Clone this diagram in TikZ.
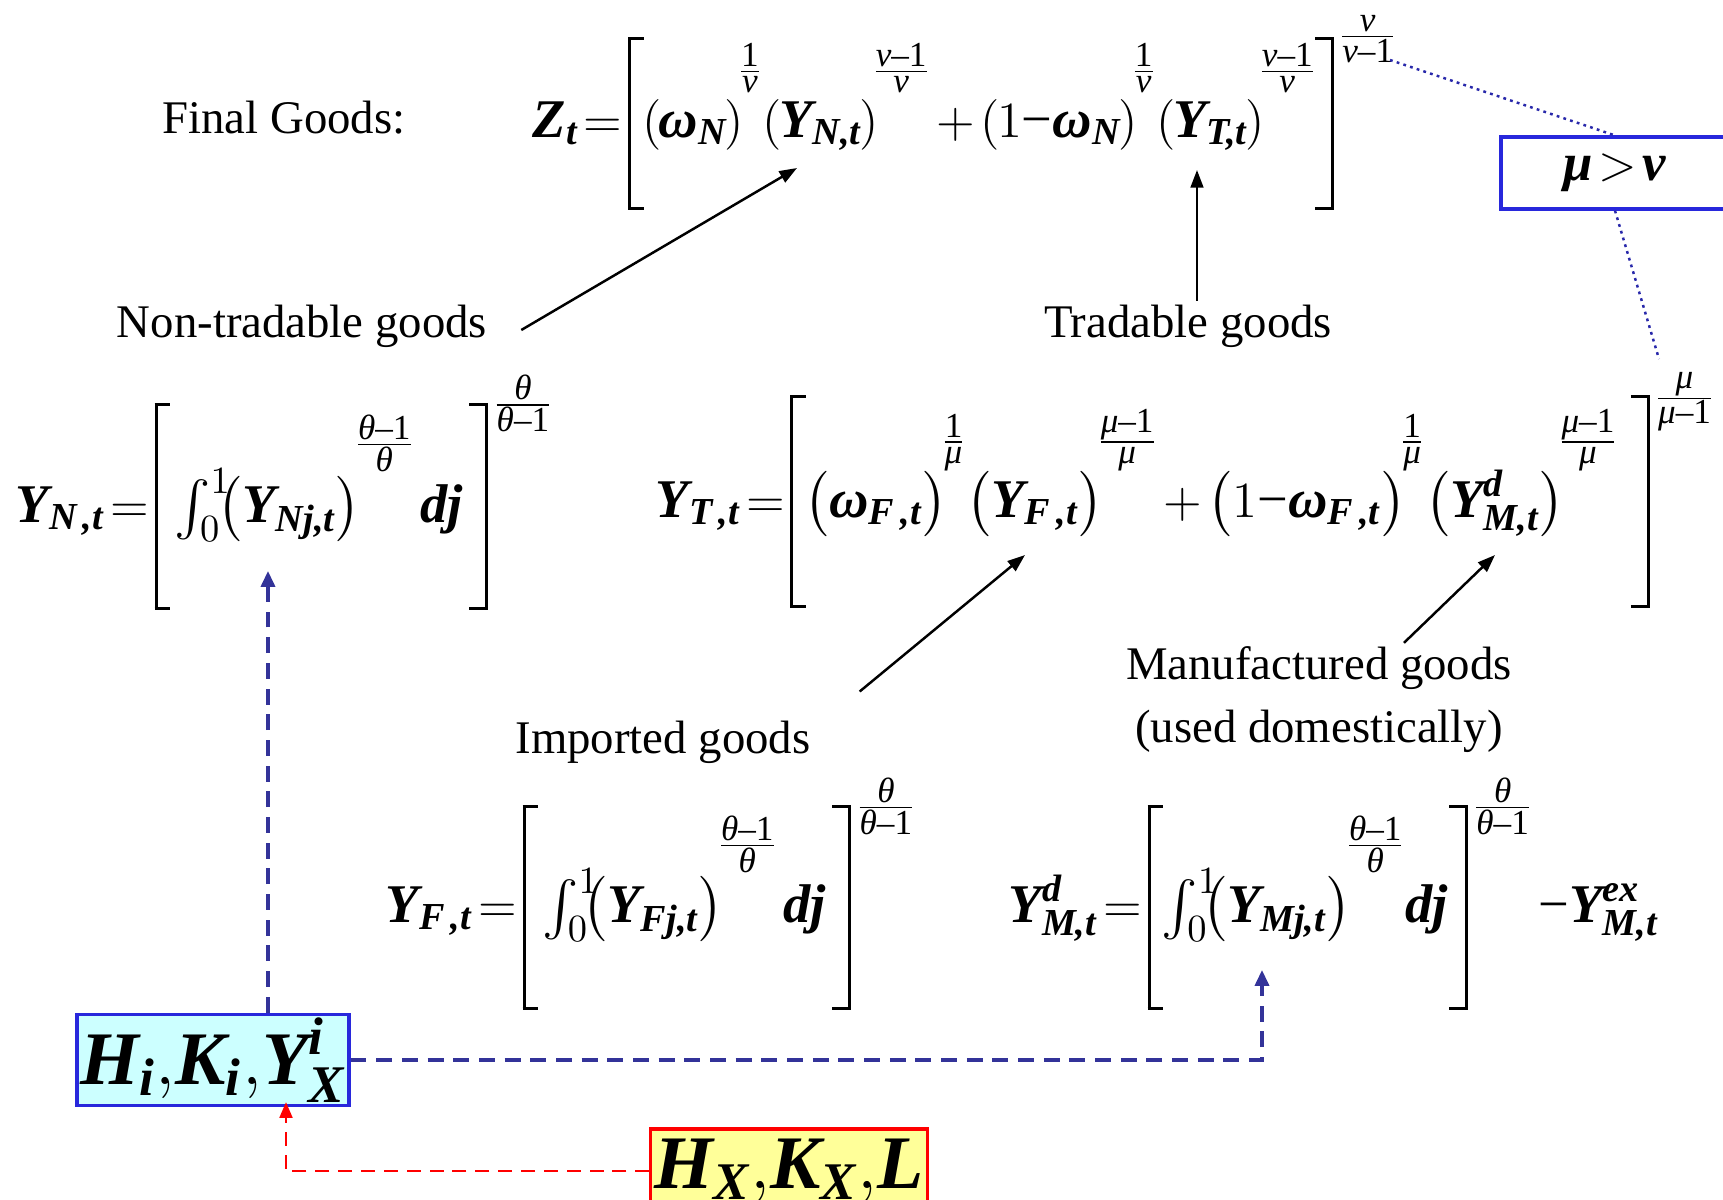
\documentclass[tikz,border=0pt]{standalone}
\usepackage{amsmath,amssymb}
\usepackage{fontspec}
\setmainfont{Liberation Serif}
\usepackage{xcolor}
\usetikzlibrary{positioning,arrows.meta,calc}

\definecolor{dashblue}{RGB}{51,51,153}
\definecolor{dotblue}{RGB}{40,40,170}
\definecolor{frameblue}{RGB}{40,40,220}
\definecolor{lightcyan}{RGB}{204,255,255}
\definecolor{lightyellow}{RGB}{255,255,153}

% bold italic variables, raised exponents, thin brackets
\newcommand{\bv}[1]{\text{\bfseries\itshape #1}}
\newcommand{\gnu}{\textit{ν}}
\newcommand{\gmu}{\textit{μ}}
\newcommand{\gth}{\textit{θ}}
\newcommand{\mn}{\text{−}}
\newcommand{\ex}[3][19pt]{\mkern-2.5mu\raisebox{#1}[0pt][0pt]{\fontsize{10}{11}\selectfont$\frac{\mbox{#2}}{\mbox{#3}}$}}
\newcommand{\oex}[3][30pt]{\mkern4mu\ex[#1]{#2}{#3}}
\newlength{\bw}\setlength{\bw}{0.85pt}
\newcommand{\lbrk}[2]{\mathopen{\rule[-#2]{\bw}{\dimexpr#1+#2\relax}\kern-\bw
  \rlap{\rule[\dimexpr#1-\bw\relax]{4.5pt}{\bw}}\rlap{\rule[-#2]{4.5pt}{\bw}}\kern4pt}}
\newcommand{\rbrk}[2]{\mathclose{\kern4pt\llap{\rule[\dimexpr#1-\bw\relax]{4.5pt}{\bw}}%
  \llap{\rule[-#2]{4.5pt}{\bw}}\rule[-#2]{\bw}{\dimexpr#1+#2\relax}}}
\thickmuskip=2mu
\medmuskip=2mu
\thinmuskip=0mu

\begin{document}
\begin{tikzpicture}[
  x=0.01cm, y=-0.01cm,
  lbl/.style={font=\fontsize{13.3}{17.9}\selectfont, inner sep=1pt},
  eqn/.style={font=\fontsize{15.5}{18}\selectfont, inner sep=0pt, anchor=base west},
  arr/.style={-{Triangle[length=5pt,width=3.6pt]}, line width=0.7pt},
  bluearr/.style={draw=dashblue, line width=0.9pt, dash pattern=on 4.5pt off 2.8pt,
                  -{Triangle[length=4.5pt,width=4pt]}},
  redarr/.style={draw=red, line width=0.8pt, dash pattern=on 4pt off 2.5pt,
                 -{Triangle[length=4.5pt,width=3.6pt]}},
  dotline/.style={draw=dotblue, line width=0.7pt, dash pattern=on 0.8pt off 1.2pt},
  varbox/.style={line width=0.9pt, minimum width=2.72cm, minimum height=0.84cm,
                 inner sep=1pt, font=\fontsize{21.5}{24}\selectfont},
]
\useasboundingbox (0,0) rectangle (1723,1199);

% labels
\node[lbl] (final)    at (284,118) {Final Goods:};
\node[lbl] (nontrad)  at (302,326) {Non-tradable goods};
\node[lbl] (trad)     at (1188,326) {Tradable goods};
\node[lbl] (imported) at (663,742) {Imported goods};
\node[lbl, align=center] (manuf) at (1319,700) {Manufactured goods\\(used domestically)};

% equations
\node[eqn] (zeq) at (532,137) {$\bv{Z}_{\bv{t}}=\lbrk{28.4pt}{20.7pt}\left(\mkern-1mu\bv{ω}_{\bv{N}}\mkern-1mu\right)\ex[16.2pt]{1}{\gnu}\left(\mkern-1mu\bv{Y}_{\bv{N,t}}\mkern-1mu\right)\ex[16.2pt]{\gnu–1}{\gnu}+\left(\mkern-1mu1\mn\bv{ω}_{\bv{N}}\mkern-1mu\right)\ex[16.2pt]{1}{\gnu}\left(\mkern-1mu\bv{Y}_{\bv{T,t}}\mkern-1mu\right)\ex[16.2pt]{\gnu–1}{\gnu}\rbrk{28.4pt}{20.7pt}\oex[26pt]{\gnu}{\gnu–1}$};
\node[eqn] (yneq) at (15,522) {$\bv{Y}_{\bv{N\,,t}}=\lbrk{33.8pt}{25pt}\mkern2mu\int_0^1\mkern-5mu\bigl(\bv{Y}_{\bv{Nj,t}}\bigr)\ex[19.5pt]{\gth–1}{\gth}\mkern2mu\bv{dj}\mkern3mu\rbrk{33.8pt}{25pt}\oex[30.8pt]{\gth}{\gth–1}$};
\node[eqn] (yteq) at (655,517) {$\bv{Y}_{\bv{T\,,t}}=\lbrk{34.6pt}{25.8pt}\bigl(\bv{ω}_{\bv{F\,,t}}\bigr)\ex[18.8pt]{1}{\gmu}\bigl(\bv{Y}_{\bv{F\,,t}}\bigr)\ex[18.8pt]{\gmu–1}{\gmu}+\bigl(1\mn\bv{ω}_{\bv{F\,,t}}\bigr)\ex[18.8pt]{1}{\gmu}\bigl(\bv{Y}^{\bv{d}}_{\bv{M,t}}\bigr)\ex[18.8pt]{\gmu–1}{\gmu}\mkern5mu\rbrk{34.6pt}{25.8pt}\oex[31.2pt]{\gmu}{\gmu–1}$};
\node[eqn] (yfeq) at (385,922) {$\bv{Y}_{\bv{F\,,t}}=\lbrk{33.2pt}{25pt}\mkern2mu\int_0^1\mkern-6mu\bigl(\bv{Y}_{\bv{Fj,t}}\bigr)\ex[19.3pt]{\gth–1}{\gth}\mkern2mu\bv{dj}\mkern3mu\rbrk{33.2pt}{25pt}\oex[30pt]{\gth}{\gth–1}$};
\node[eqn] (ymeq) at (1008,922) {$\bv{Y}^{\bv{d}}_{\bv{M,t}}=\lbrk{33.2pt}{25pt}\int_0^1\mkern-6mu\bigl(\bv{Y}_{\bv{Mj,t}}\bigr)\ex[19.3pt]{\gth–1}{\gth}\bv{dj}\mkern1mu\rbrk{33.2pt}{25pt}\oex[30pt]{\gth}{\gth–1}\mkern2mu\mn\bv{Y}^{\bv{ex}}_{\bv{M,t}}$};

% boxes
\node[varbox, draw=frameblue, minimum width=2.28cm, minimum height=0.72cm,
      font=\fontsize{15}{18}\selectfont] (munu) at (1615,173) {$\bv{μ}>\bv{ν}$};
\node[varbox, draw=frameblue, fill=lightcyan] (hi) at (213,1060) {$\bv{H}_{\bv{i}}{,}\bv{K}_{\bv{i}}{,}\bv{Y}^{\bv{i}}_{\bv{X}}$};
\node[varbox, draw=red, fill=lightyellow] (hx) at (789,1171) {$\bv{H}_{\bv{X}}{,}\bv{K}_{\bv{X}}{,}\bv{L}$};

% arrow targets
\coordinate (yn-tip)  at (797,168);
\coordinate (yt-tip)  at (1197,170);
\coordinate (yf-tip)  at (1025,555);
\coordinate (ym-tip)  at (1495,555);
\coordinate (ynj-in)  at (268,571);
\coordinate (ymj-in)  at (1262,970);
\coordinate (hi-in)   at (286,1102);
\coordinate (z-exp)   at (1390,60);
\coordinate (yt-exp)  at (1659,359);

\draw[arr] ($(nontrad.east)+(30,4)$) -- (yn-tip);
\draw[arr] (trad.north -| yt-tip) -- (yt-tip);
\draw[arr] ($(imported.north east)+(45,-25)$) -- (yf-tip);
\draw[arr] ($(manuf.north)+(85,0)$) -- (ym-tip);

\draw[bluearr] (hi.north -| ynj-in) -- (ynj-in);
\draw[bluearr] (hi.east) -| (ymj-in);
\draw[redarr] (hx.west) -| (hi-in);

\draw[dotline] (z-exp) -- (munu.north);
\draw[dotline] (munu.south) -- (yt-exp);
\end{tikzpicture}
\end{document}
